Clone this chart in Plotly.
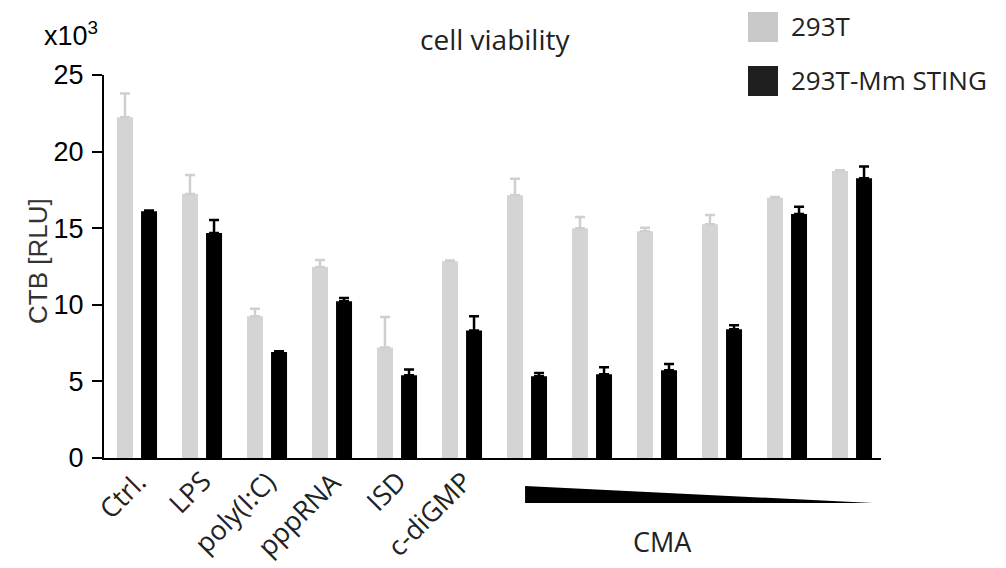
import plotly.graph_objects as go

# ---- data ----
categories = ["Ctrl.", "LPS", "poly(I:C)", "pppRNA", "ISD", "c-diGMP",
              "CMA 1", "CMA 2", "CMA 3", "CMA 4", "CMA 5", "CMA 6"]
tick_labels = ["Ctrl.", "LPS", "poly(I:C)", "pppRNA", "ISD", "c-diGMP",
               "", "", "", "", "", ""]
series_names = ["293T", "293T-Mm STING"]
wt_values = [22.24, 17.23, 9.25, 12.47, 7.22, 12.84, 17.15, 14.99, 14.80, 15.25, 16.99, 18.73]
wt_err = [1.56, 1.24, 0.50, 0.45, 1.98, 0.05, 1.08, 0.74, 0.23, 0.61, 0.05, 0.05]
sting_values = [16.10, 14.69, 6.92, 10.23, 5.40, 8.33, 5.33, 5.46, 5.72, 8.40, 15.93, 18.26]
sting_err = [0.05, 0.84, 0.05, 0.21, 0.37, 0.92, 0.22, 0.46, 0.41, 0.26, 0.47, 0.76]
y_ticks = [0, 5, 10, 15, 20, 25]
cma_label = "CMA"
title_text = "cell viability"
y_title = "CTB [RLU]"
y_scale_text = "x10<sup>3</sup>"

x_idx = list(range(len(categories)))

GRAY = "#d4d4d4"
BLACK = "#000000"
TEXT = "#222222"
BAR_W = 0.246

fig = go.Figure()
fig.add_trace(go.Bar(
    x=x_idx, y=wt_values, name=series_names[0], marker_color=GRAY,
    marker_line_width=0, width=BAR_W, offset=-0.308,
    error_y=dict(type="data", symmetric=False, array=wt_err,
                 arrayminus=[0] * len(wt_err), color="#cfcfcf",
                 thickness=2.5, width=5),
    showlegend=False))
fig.add_trace(go.Bar(
    x=x_idx, y=sting_values, name=series_names[1], marker_color=BLACK,
    marker_line_width=0, width=BAR_W, offset=0.062,
    error_y=dict(type="data", symmetric=False, array=sting_err,
                 arrayminus=[0] * len(sting_err), color=BLACK,
                 thickness=2.5, width=5),
    showlegend=False))

L, R, T, B = 96, 133, 67, 118
W, H = 1006, 568
PW, PH = W - L - R, H - T - B


def px_x(px):
    return (px - L) / PW


def px_y(py):
    return (H - B - py) / PH


shapes = [
    # CMA wedge
    dict(type="path", xref="x", yref="paper",
         path=f"M 5.97,{px_y(478)} L 5.97,{px_y(495)} L 11.32,{px_y(495)} Z",
         fillcolor="#000000", line=dict(width=0)),
    # legend squares
    dict(type="rect", xref="paper", yref="paper",
         x0=px_x(740), x1=px_x(770), y0=px_y(34), y1=px_y(4),
         fillcolor="#c8c8c8", line=dict(width=0)),
    dict(type="rect", xref="paper", yref="paper",
         x0=px_x(740), x1=px_x(770), y0=px_y(88), y1=px_y(58),
         fillcolor="#1f1f1f", line=dict(width=0)),
]

annotations = [
    dict(text=series_names[0], xref="paper", yref="paper", x=px_x(781), y=px_y(18),
         xanchor="left", yanchor="middle", showarrow=False,
         font=dict(family="Open Sans", size=26, color=TEXT)),
    dict(text=series_names[1], xref="paper", yref="paper", x=px_x(781), y=px_y(72),
         xanchor="left", yanchor="middle", showarrow=False,
         font=dict(family="Open Sans", size=26, color=TEXT)),
    dict(text=title_text, xref="paper", yref="paper", x=px_x(487), y=px_y(31),
         xanchor="center", yanchor="middle", showarrow=False,
         font=dict(family="Open Sans", size=28, color=TEXT)),
    dict(text=y_scale_text, xref="paper", yref="paper", x=px_x(34), y=px_y(26),
         xanchor="left", yanchor="middle", showarrow=False,
         font=dict(family="Liberation Sans", size=27, color=BLACK)),
    dict(text=y_title, xref="paper", yref="paper", x=px_x(30), y=px_y(253),
         xanchor="center", yanchor="middle", showarrow=False, textangle=-90,
         font=dict(family="Liberation Sans", size=26, color="#333333")),
    dict(text=cma_label, xref="x", yref="paper", x=8.09, y=px_y(533),
         xanchor="center", yanchor="middle", showarrow=False,
         font=dict(family="Open Sans", size=27, color=TEXT)),
]

# category labels, rotated
for i, lab in zip(x_idx, tick_labels):
    if lab:
        annotations.append(dict(
            text=lab, xref="x", yref="paper", x=i + 0.30, y=px_y(452),
            xanchor="right", yanchor="top", showarrow=False, textangle=-45,
            font=dict(family="Open Sans", size=27, color=TEXT)))

fig.update_layout(
    width=W, height=H,
    margin=dict(l=L, r=R, t=T, b=B, pad=0),
    paper_bgcolor="white", plot_bgcolor="white",
    barmode="overlay",
    shapes=shapes, annotations=annotations,
    xaxis=dict(range=[-0.508, 11.446], tickmode="array", tickvals=x_idx,
               showticklabels=False, ticks="",
               showline=True, linecolor=BLACK, linewidth=2,
               showgrid=False, zeroline=False),
    yaxis=dict(range=[0, 25], tickmode="array", tickvals=y_ticks,
               ticks="outside", ticklen=10, tickwidth=2, tickcolor=BLACK,
               ticklabelstandoff=3,
               showline=True, linecolor=BLACK, linewidth=2,
               showgrid=False, zeroline=False,
               tickfont=dict(family="Liberation Sans", size=27, color=BLACK)),
)

fig.write_html("out.html")
